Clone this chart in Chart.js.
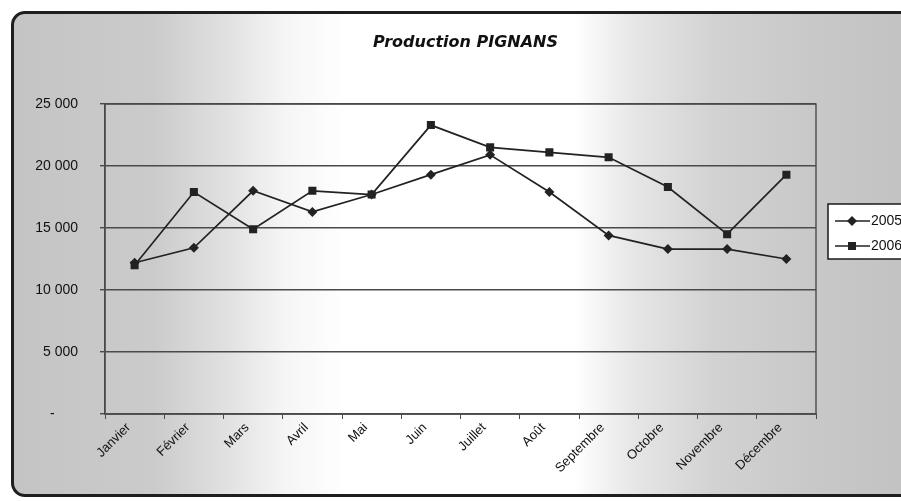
<!DOCTYPE html>
<html>
<head>
<meta charset="utf-8">
<title>Production PIGNANS</title>
<script src="https://cdn.jsdelivr.net/npm/chart.js@4.4.0/dist/chart.umd.min.js"></script>
<style>
  html, body { margin: 0; padding: 0; background: #fff; }
  #page { position: relative; width: 901px; height: 502px; overflow: hidden; background: #fff; }
  #frame {
    position: absolute; left: 11px; top: 11px; width: 960px; height: 480px;
    border: 3px solid #1e1e1e; border-radius: 14px;
    background: linear-gradient(to right,
      #c4c4c4 0px, #cbcbcb 140px, #e0e0e0 210px, #f5f5f5 270px, #ffffff 330px,
      #ffffff 560px, #e6e6e6 620px, #d2d2d2 700px, #c8c8c8 800px, #c2c2c2 900px);
  }
  #wrap { position: absolute; left: 0; top: 0; width: 901px; height: 502px; }
</style>
</head>
<body>
<div id="page">
  <div id="frame"></div>
  <div id="wrap"><canvas id="myChart" width="901" height="502"></canvas></div>
</div>
<script>
/****************************************************/
/*****************données production*****************/
/****************************************************/
const chartTitle = 'Production PIGNANS';
const months = ['Janvier', 'Février', 'Mars', 'Avril', 'Mai', 'Juin', 'Juillet',
  'Août', 'Septembre', 'Octobre', 'Novembre', 'Décembre'];
const seriesNames = ['2005', '2006'];
const prod2005 = [12200, 13400, 18000, 16300, 17700, 19300, 20900, 17900, 14400, 13300, 13300, 12500];
const prod2006 = [12000, 17900, 14900, 18000, 17700, 23300, 21500, 21100, 20700, 18300, 14500, 19300];
const yTickLabels = ['-', '5 000', '10 000', '15 000', '20 000', '25 000'];

const ink = '#222';
const gridColor = '#4a4a4a';
const fontFam = "'Liberation Sans', Arial, sans-serif";

/****************************************************/
/*****************plugins dessin*********************/
/****************************************************/
const titlePlugin = {
  id: 'excelTitle',
  afterDraw(chart) {
    const ctx = chart.ctx;
    const area = chart.chartArea;
    ctx.save();
    ctx.fillStyle = '#111';
    ctx.font = "italic bold 16px 'DejaVu Sans', sans-serif";
    ctx.textAlign = 'center';
    ctx.textBaseline = 'middle';
    ctx.fillText(chartTitle, (area.left + area.right) / 2 + 5, 43);
    ctx.restore();
  }
};

const plotBorder = {
  id: 'plotBorder',
  beforeDatasetsDraw(chart) {
    const ctx = chart.ctx;
    const a = chart.chartArea;
    ctx.save();
    ctx.strokeStyle = gridColor;
    ctx.lineWidth = 1.4;
    ctx.strokeRect(a.left, a.top, a.right - a.left, a.bottom - a.top);
    ctx.restore();
  }
};

function drawMarker(ctx, style, x, y) {
  ctx.beginPath();
  if (style === 'rectRot') {
    ctx.moveTo(x - 5, y); ctx.lineTo(x, y - 5); ctx.lineTo(x + 5, y); ctx.lineTo(x, y + 5);
  } else {
    ctx.rect(x - 4, y - 4, 8, 8);
  }
  ctx.closePath();
  ctx.fill();
}

const boxLegend = {
  id: 'boxLegend',
  afterDraw(chart) {
    const ctx = chart.ctx;
    const left = chart.chartArea.right + 12;
    const top = 204;
    ctx.save();
    ctx.fillStyle = '#fff';
    ctx.strokeStyle = '#1a1a1a';
    ctx.lineWidth = 1.5;
    ctx.fillRect(left, top, 100, 55);
    ctx.strokeRect(left, top, 100, 55);
    chart.data.datasets.forEach((ds, i) => {
      const y = top + 17 + i * 25;
      ctx.strokeStyle = ink;
      ctx.fillStyle = ink;
      ctx.lineWidth = 1.6;
      ctx.beginPath();
      ctx.moveTo(left + 7, y);
      ctx.lineTo(left + 42, y);
      ctx.stroke();
      drawMarker(ctx, ds.pointStyle, left + 24, y);
      ctx.fillStyle = '#111';
      ctx.font = '14px ' + fontFam;
      ctx.textAlign = 'left';
      ctx.textBaseline = 'middle';
      ctx.fillText(ds.label, left + 43, y);
    });
    ctx.restore();
  }
};

/****************************************************/
/*****************graphique**************************/
/****************************************************/
let ctx = document.getElementById('myChart').getContext('2d');
let myChart = new Chart(ctx, {
  type: 'line',
  data: {
    labels: months,
    datasets: [{
      label: seriesNames[0],
      data: prod2005,
      borderColor: ink,
      backgroundColor: ink,
      borderWidth: 1.7,
      pointStyle: 'rectRot',
      pointRadius: 5,
      pointBorderWidth: 0,
      tension: 0
    }, {
      label: seriesNames[1],
      data: prod2006,
      borderColor: ink,
      backgroundColor: ink,
      borderWidth: 1.7,
      pointStyle: 'rect',
      pointRadius: 5.7,
      pointBorderWidth: 0,
      tension: 0
    }]
  },
  options: {
    responsive: false,
    animation: false,
    layout: { padding: { top: 104, right: 85, bottom: 0, left: 0 } },
    plugins: {
      legend: { display: false },
      title: { display: false },
      tooltip: { enabled: false }
    },
    scales: {
      x: {
        offset: true,
        grid: { drawOnChartArea: false, drawTicks: true, tickLength: 5, color: gridColor, offset: true },
        border: { display: true, color: gridColor, width: 1.4 },
        ticks: {
          color: '#111',
          font: { family: fontFam, size: 13 },
          minRotation: 45,
          maxRotation: 45,
          padding: 1,
          labelOffset: -6
        },
        afterFit(scale) { scale.height = 88; }
      },
      y: {
        min: 0,
        max: 25000,
        grid: { color: gridColor, lineWidth: 1.4, tickLength: 5 },
        border: { display: true, color: gridColor, width: 1.4 },
        ticks: {
          stepSize: 5000,
          color: '#111',
          font: { family: fontFam, size: 14 },
          padding: 22,
          callback: (value, index) => index === 0 ? yTickLabels[0] + '      ' : yTickLabels[index]
        },
        afterFit(scale) { scale.width = 105; }
      }
    }
  },
  plugins: [plotBorder, titlePlugin, boxLegend]
});
</script>
</body>
</html>
